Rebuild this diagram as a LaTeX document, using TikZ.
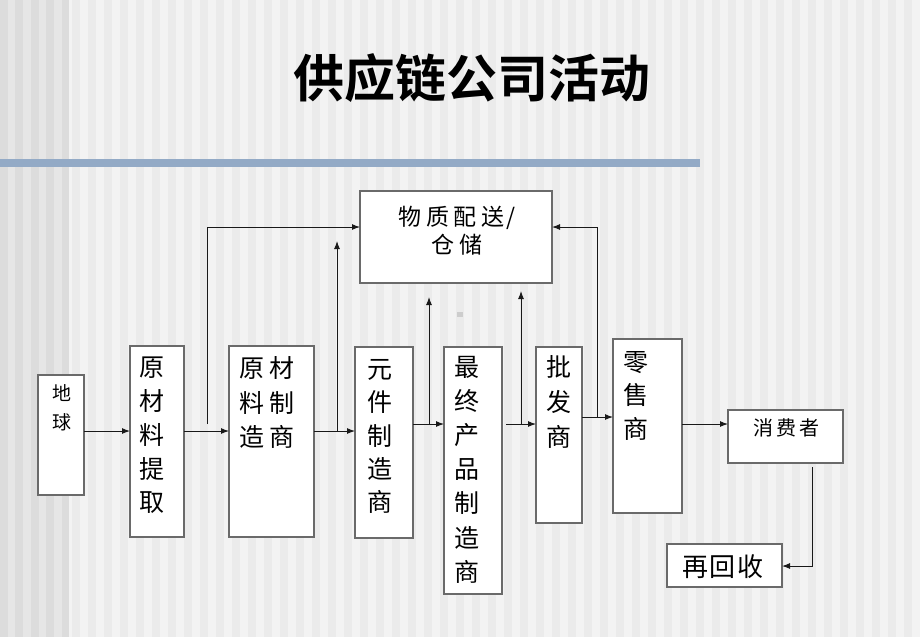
\documentclass[tikz,border=0pt]{standalone}
\usepackage{fontspec}
\newfontfamily\cjk{Noto Sans CJK SC}
\newfontfamily\cjkb{Noto Sans CJK SC Bold}
\usetikzlibrary{arrows.meta}
\definecolor{bgbase}{HTML}{F3F3F3}
\definecolor{bgstripe}{HTML}{EBEBEB}
\definecolor{bgdark}{HTML}{E6E6E6}
\definecolor{bgdarkstripe}{HTML}{DCDCDC}
\definecolor{barblue}{HTML}{93AAC6}
\definecolor{boxline}{HTML}{6A6A6A}
\definecolor{dotgrey}{HTML}{CDCDCD}
\tikzset{
  stepbox/.style={draw=boxline, line width=1.2pt, fill=white, inner sep=0pt, outer sep=0pt, anchor=north west},
  conn/.style={draw=black!90, line width=1pt},
  arr/.style={conn, -{Latex[length=8pt,width=6pt]}},
  lbl/.style={inner sep=0pt, align=center, text=black},
}
\newcommand{\boxfont}[2]{\cjk\fontsize{#1}{#2}\selectfont}
\begin{document}
\begin{tikzpicture}[x=1pt, y=-1pt]
% background
\fill[bgbase] (0,0) rectangle (920,637);
\useasboundingbox (0,0) rectangle (920,637);
\foreach \i in {0,...,57} { \fill[bgstripe] (\i*16+8,0) rectangle ++(8,637); }
\fill[bgdark] (0,0) rectangle (69,637);
\foreach \i in {0,...,4} { \fill[bgdarkstripe] (\i*15.4,0) rectangle ++(7.7,637); }
% title and bar
\node[lbl, font=\cjkb\fontsize{51}{53}\selectfont] (title) at (472,78) {供应链公司活动};
\fill[barblue] (0,159) rectangle (700,167);
\fill[dotgrey] (457,312) rectangle (463,317);
% boxes
\node[stepbox, minimum width=46pt, minimum height=120pt] (earth) at (38,375) {};
\node[stepbox, minimum width=54pt, minimum height=191pt] (rawx) at (130,346) {};
\node[stepbox, minimum width=85pt, minimum height=191pt] (rawm) at (229,346) {};
\node[stepbox, minimum width=58pt, minimum height=191pt] (comp) at (355,347) {};
\node[stepbox, minimum width=58pt, minimum height=247pt] (final) at (444,347) {};
\node[stepbox, minimum width=46pt, minimum height=176pt] (whole) at (536,347) {};
\node[stepbox, minimum width=69pt, minimum height=174pt] (retail) at (613,339) {};
\node[stepbox, minimum width=115pt, minimum height=53pt] (consumer) at (728,410) {};
\node[stepbox, minimum width=115pt, minimum height=43pt] (recycle) at (667,544) {};
\node[stepbox, minimum width=192pt, minimum height=92pt] (store) at (360,191) {};
% labels
\node[lbl, font=\boxfont{19}{29}] (tearth) at (62,407.5) {地\\球};
\node[lbl, font=\boxfont{25}{33.75}] (trawx) at (152,435.5) {原\\材\\料\\提\\取};
\node[lbl, font=\boxfont{25}{34.5}] (trawm) at (267,402.5) {原\hspace{5pt}材\\料\hspace{5pt}制\\造\hspace{5pt}商};
\node[lbl, font=\boxfont{25}{33.25}] (tcomp) at (380,436.5) {元\\件\\制\\造\\商};
\node[lbl, font=\boxfont{25}{34.2}] (tfinal) at (467,469.5) {最\\终\\产\\品\\制\\造\\商};
\node[lbl, font=\boxfont{25}{35}] (twhole) at (559,402) {批\\发\\商};
\node[lbl, font=\boxfont{25}{33.5}] (tretail) at (636,395.5) {零\\售\\商};
\node[lbl, font=\boxfont{20}{22}] (tconsumer) at (786,428) {消\hspace{3pt}费\hspace{3pt}者};
\node[lbl, font=\boxfont{26}{28}] (trecycle) at (723,567) {再\hspace{2pt}回\hspace{2pt}收};
\node[lbl, font=\boxfont{23}{28}] (tstore) at (457,231) {物\hspace{4.5pt}质\hspace{4.5pt}配\hspace{4.5pt}送\hspace{2pt}/\\仓\hspace{4.5pt}储};
% junction coordinates
\coordinate (j1) at (207,424);
\coordinate (j2) at (337,431);
\coordinate (t2) at (337,241);
\coordinate (j3) at (429,424);
\coordinate (t3) at (429,297);
\coordinate (s4) at (506,424);
\coordinate (j4) at (521,424);
\coordinate (t4) at (521,291);
\coordinate (j5) at (597,417);
\coordinate (s6) at (812,467);
% connectors
\draw[arr] (earth.east |- 0,431) -- (rawx.west |- 0,431);
\draw[arr] (rawx.east |- 0,431) -- (rawm.west |- 0,431);
\draw[arr] (j1) |- (store.west |- 0,227);
\draw[arr] (rawm.east |- 0,431) -- (comp.west |- 0,431);
\draw[arr] (j2) -- (t2);
\draw[arr] (comp.east |- 0,424) -- (final.west |- 0,424);
\draw[arr] (j3) -- (t3);
\draw[arr] (s4) -- (whole.west |- 0,424);
\draw[arr] (j4) -- (t4);
\draw[arr] (whole.east |- 0,417) -- (retail.west |- 0,417);
\draw[arr] (j5) |- (store.east |- 0,227);
\draw[arr] (retail.east |- 0,424) -- (consumer.west |- 0,424);
\draw[arr] (s6) |- (recycle.east |- 0,566);
\end{tikzpicture}
\end{document}
